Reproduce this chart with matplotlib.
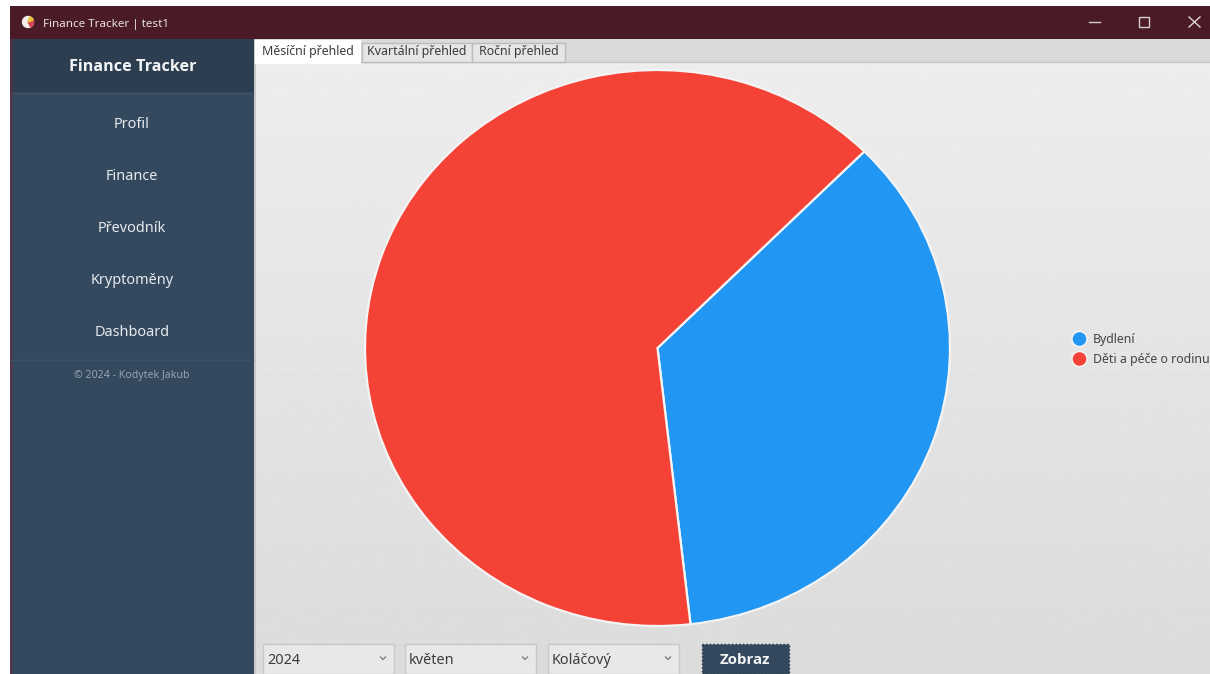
import matplotlib
matplotlib.use("Agg")
import matplotlib.pyplot as plt
import numpy as np
from matplotlib.patches import Rectangle, Circle, Wedge

plt.rcParams['font.family'] = ['Noto Sans', 'DejaVu Sans']

W, H = 1210, 674

categories = ['Bydlení', 'Děti a péče o rodinu']
values = [35.7, 64.3]
colors = ['#2196f3', '#f44336']
menu_items = ['Profil', 'Finance', 'Převodník', 'Kryptoměny', 'Dashboard']
tab_labels = ['Měsíční přehled', 'Kvartální přehled', 'Roční přehled']
combo_labels = ['2024', 'květen', 'Koláčový']


def rect(ax, x, y, w, h, color, edge='none', lw=0, ls='-', z=1):
    ax.add_patch(Rectangle((x, y), w, h, facecolor=color, edgecolor=edge, linewidth=lw, linestyle=ls, zorder=z))


fig = plt.figure(figsize=(W / 100, H / 100), dpi=100, facecolor='white')

# pixel coordinate canvas for the window chrome
ui = fig.add_axes([0, 0, 1, 1])
ui.set_xlim(0, W)
ui.set_ylim(H, 0)
ui.axis('off')

# chart area gradient
gradient = np.linspace(0.93, 0.86, 256).reshape(-1, 1)
ui.imshow(gradient, extent=[255, W, H, 62], cmap='gray', vmin=0, vmax=1, aspect='auto', zorder=0)
ui.set_xlim(0, W)
ui.set_ylim(H, 0)

# title bar
rect(ui, 10, 6, W - 10, 33, '#4a1b27', z=2)
ui.text(43, 24, 'Finance Tracker | test1', color='#e8e0e2', fontsize=8.4, va='center', zorder=3)
ui.add_patch(Circle((28, 22), 5.5, color='#f2efe8', zorder=3))
ui.add_patch(Wedge((28, 22), 5.5, 340, 60, color='#d9434e', zorder=4))
ui.add_patch(Wedge((28, 22), 5.5, 290, 340, color='#e8c23a', zorder=4))
ui.plot([1089, 1100], [22, 22], color='#d8ced1', lw=1, zorder=3)
rect(ui, 1139, 17, 10, 10, 'none', edge='#d8ced1', lw=1, z=3)
ui.plot([1189, 1200], [17, 27], color='#e0d8da', lw=1, zorder=3)
ui.plot([1189, 1200], [27, 17], color='#e0d8da', lw=1, zorder=3)

# sidebar
rect(ui, 10, 39, 244, H - 39, '#34495e', z=2)
rect(ui, 10, 39, 244, 53, '#2c3e50', z=3)
ui.plot([11, 253], [92.5, 92.5], color='#3d5268', lw=1, zorder=4)
ui.plot([10.5, 10.5], [39, H], color='#6b2a3a', lw=1, zorder=4)
rect(ui, 254, 39, 2, H - 39, '#c8c8c8', z=2)
ui.text(132.5, 67, 'Finance Tracker', color='#f2f4f6', fontsize=11.6, fontweight='bold',
        family=['Open Sans', 'DejaVu Sans'], ha='center', va='center', zorder=5)
menu_y = [124, 176, 228, 280, 332]
for label, y in zip(menu_items, menu_y):
    ui.text(132, y, label, color='#e6eaee', fontsize=10.4, ha='center', va='center', zorder=5)
ui.plot([11, 253], [359.5, 359.5], color='#3d5268', lw=1, zorder=4)
ui.text(132, 375.5, '© 2024 - Kodytek Jakub', color='#97a3b0', fontsize=7.6, ha='center', va='center', zorder=5)

# tab strip
rect(ui, 256, 39, W - 256, 23, '#d9d9d9', z=2)
ui.plot([256, W], [62, 62], color='#c6c6c6', lw=1, zorder=3)
rect(ui, 255, 40, 106, 24, 'white', z=4)
rect(ui, 361.5, 42.5, 110.5, 19, '#e6e6e6', edge='#bcbcbc', lw=1, z=3)
rect(ui, 472, 42.5, 92.5, 19, '#e6e6e6', edge='#bcbcbc', lw=1, z=3)
tab_x = [308, 416.5, 518.5]
for label, x in zip(tab_labels, tab_x):
    ui.text(x, 51, label, color='#3c3c3c', fontsize=8.9, ha='center', va='center', zorder=5)

# legend
legend_y = [339, 359]
for label, color, y in zip(categories, colors, legend_y):
    ui.add_patch(Circle((1079.5, y), 7.5, facecolor=color, edgecolor='#f6f6f6', linewidth=1, zorder=5))
    ui.text(1093, y, label, color='#444444', fontsize=8.9, va='center', zorder=5)

# bottom controls
combo_box = [(262, 132), (404, 132), (547, 132)]
for label, (x, w) in zip(combo_labels, combo_box):
    rect(ui, x + 0.5, 643.5, w - 1, 30, '#e8e8e8', edge='#c8c8c8', lw=1, z=3)
    ui.text(x + 5, 660, label, color='#3c3c3c', fontsize=10.4, va='center', zorder=5)
    arrow_x = x + w - 11
    ui.plot([arrow_x - 2.5, arrow_x, arrow_x + 2.5], [657, 659.5, 657], color='#808080', lw=1, zorder=5)
rect(ui, 701.5, 643.5, 87, 30, '#34495e', edge='#1f2d3d', lw=1, ls=':', z=3)
ui.text(745, 660, 'Zobraz', color='#f2f4f6', fontsize=10.8, fontweight='bold',
        family=['Open Sans', 'DejaVu Sans'], ha='center', va='center', zorder=5)

# pie chart, stretched to fill its box
cx, cy, rx, ry = 657.5, 348, 292.5, 278
pie_ax = fig.add_axes([(cx - rx) / W, 1 - (cy + ry) / H, 2 * rx / W, 2 * ry / H])
pie_ax.patch.set_alpha(0)
pie_ax.pie(values, colors=colors, startangle=45, counterclock=False, radius=1,
           wedgeprops={'edgecolor': '#f4f4f4', 'linewidth': 1.6})
pie_ax.set_aspect('auto')
pie_ax.set_xlim(-1, 1)
pie_ax.set_ylim(-1, 1)

fig.savefig('out.png', dpi=100)
